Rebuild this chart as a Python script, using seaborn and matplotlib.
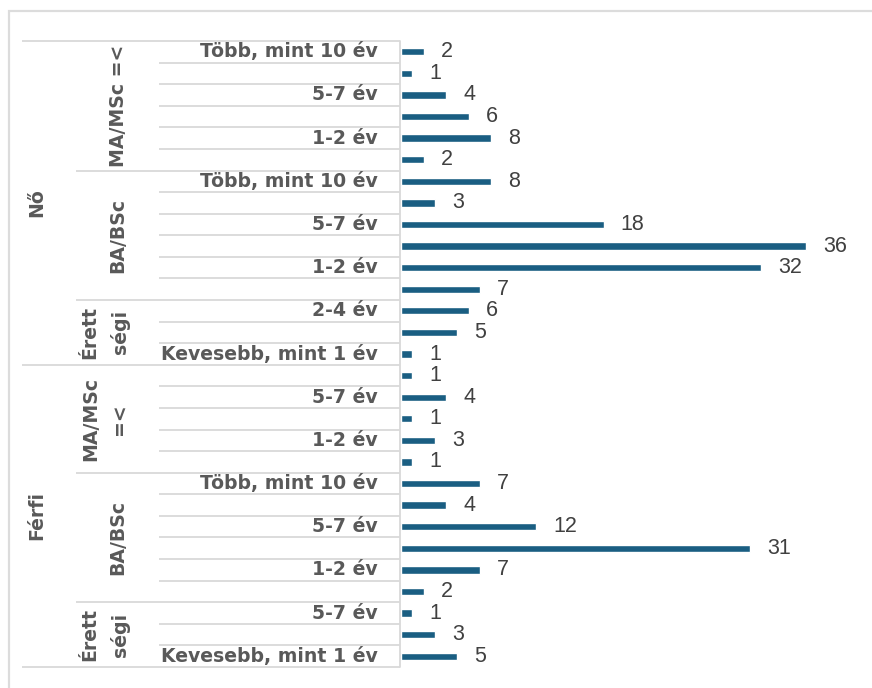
import matplotlib
matplotlib.use("Agg")
import matplotlib.pyplot as plt
import pandas as pd
import seaborn as sns
from matplotlib.transforms import blended_transform_factory
from matplotlib.patches import Rectangle

# --- data: respondents by gender, education and years of experience (top to bottom) ---
nemek = ["Nő", "Férfi"]
vegzettseg_cimkek = ["MA/MSc =<", "BA/BSc", "Érett\nségi",
                     "MA/MSc\n=<", "BA/BSc", "Érett\nségi"]

no_ma_ido = ["Több, mint 10 év", "7-10 év", "5-7 év", "2-4 év", "1-2 év", "Kevesebb, mint 1 év"]
no_ma_fo = [2, 1, 4, 6, 8, 2]
no_ba_ido = ["Több, mint 10 év", "7-10 év", "5-7 év", "2-4 év", "1-2 év", "Kevesebb, mint 1 év"]
no_ba_fo = [8, 3, 18, 36, 32, 7]
no_er_ido = ["2-4 év", "1-2 év", "Kevesebb, mint 1 év"]
no_er_fo = [6, 5, 1]

ferfi_ma_ido = ["7-10 év", "5-7 év", "2-4 év", "1-2 év", "Kevesebb, mint 1 év"]
ferfi_ma_fo = [1, 4, 1, 3, 1]
ferfi_ba_ido = ["Több, mint 10 év", "7-10 év", "5-7 év", "2-4 év", "1-2 év", "Kevesebb, mint 1 év"]
ferfi_ba_fo = [7, 4, 12, 31, 7, 2]
ferfi_er_ido = ["5-7 év", "2-4 év", "Kevesebb, mint 1 év"]
ferfi_er_fo = [1, 3, 5]

csoportok = [
    (nemek[0], vegzettseg_cimkek[0], no_ma_ido, no_ma_fo),
    (nemek[0], vegzettseg_cimkek[1], no_ba_ido, no_ba_fo),
    (nemek[0], vegzettseg_cimkek[2], no_er_ido, no_er_fo),
    (nemek[1], vegzettseg_cimkek[3], ferfi_ma_ido, ferfi_ma_fo),
    (nemek[1], vegzettseg_cimkek[4], ferfi_ba_ido, ferfi_ba_fo),
    (nemek[1], vegzettseg_cimkek[5], ferfi_er_ido, ferfi_er_fo),
]

sorok = []
for ci, (nem, vegz, idok, fok) in enumerate(csoportok):
    for ido, fo in zip(idok, fok):
        sorok.append({"kulcs": f"{len(sorok)}", "nem": nem, "csoport": ci,
                      "vegzettseg": vegz, "ido": ido, "fo": fo})
df = pd.DataFrame(sorok)
n = len(df)

# --- style ---
sns.set_theme(style="white")
plt.rcParams["font.family"] = ["Liberation Sans", "DejaVu Sans"]
CAT_FONT = ["DejaVu Sans"]
CAT_SIZE = 13.6

BAR = "#1A5E82"
GRID = "#D9D9D9"
LABEL = "#595959"
VALUE = "#404040"

W, H = 872, 688
fig = plt.figure(figsize=(W / 100, H / 100), dpi=100)
fig.patch.set_facecolor("white")

ax = fig.add_axes([401 / W, 1 - 667 / H, 450 / W, 626 / H])
sns.barplot(data=df, y="kulcs", x="fo", order=list(df["kulcs"]), color=BAR,
            saturation=1, width=0.34, orient="h", ax=ax)
ax.set_xlim(0, 40)
ax.set_ylim(n - 0.5, -0.5)
for s in ax.spines.values():
    s.set_visible(False)
ax.set_xticks([])
ax.set_yticks([])
ax.set_xlabel("")
ax.set_ylabel("")

ax.bar_label(ax.containers[0], labels=[str(v) for v in df["fo"]], padding=12.5,
             fontsize=15.5, color=VALUE)

# --- multi-level category axis drawn on the left ---
tr = blended_transform_factory(fig.transFigure, ax.transData)
x_axis = 400 / W
lw = 1.3

def hline(x0, y):
    ax.plot([x0 / W, x_axis], [y, y], color=GRID, lw=lw, transform=tr,
            clip_on=False, solid_capstyle="butt")

ax.plot([x_axis, x_axis], [-0.5, n - 0.5], color=GRID, lw=lw, transform=tr,
        clip_on=False)

for i in range(1, n):
    prev, cur = df.iloc[i - 1], df.iloc[i]
    if prev["nem"] != cur["nem"]:
        hline(22, i - 0.5)
    elif prev["csoport"] != cur["csoport"]:
        hline(76, i - 0.5)
    else:
        hline(159, i - 0.5)
hline(22, -0.5)
hline(22, n - 0.5)

# innermost labels: every other row, as in the source axis
for i, ido in enumerate(df["ido"]):
    if i % 2 == 0:
        ax.text(378 / W, i, ido, transform=tr, ha="right", va="center",
                fontsize=CAT_SIZE, fontweight="bold", color=LABEL,
                family=CAT_FONT)

# education level labels
for ci, g in df.groupby("csoport"):
    yc = (g.index.min() + g.index.max()) / 2
    txt = g["vegzettseg"].iloc[0]
    xc = 105 if "\n" in txt else 118
    ax.text(xc / W, yc, txt, transform=tr, ha="center", va="center",
            rotation=90, ma="center", linespacing=1.7,
            fontsize=CAT_SIZE, fontweight="bold", color=LABEL, family=CAT_FONT)

# gender labels
for nem, g in df.groupby("nem", sort=False):
    yc = (g.index.min() + g.index.max()) / 2
    ax.text(37 / W, yc, nem, transform=tr, ha="center", va="center",
            rotation=90, fontsize=CAT_SIZE, fontweight="bold", color=LABEL,
            family=CAT_FONT)

# chart area frame
fig.add_artist(Rectangle((9 / W, -0.2), 1.5, 1 - 11 / H + 0.2, fill=False,
                         ec="#DCDCDC", lw=1.6, transform=fig.transFigure))

fig.savefig("out.png", dpi=100, facecolor="white")
